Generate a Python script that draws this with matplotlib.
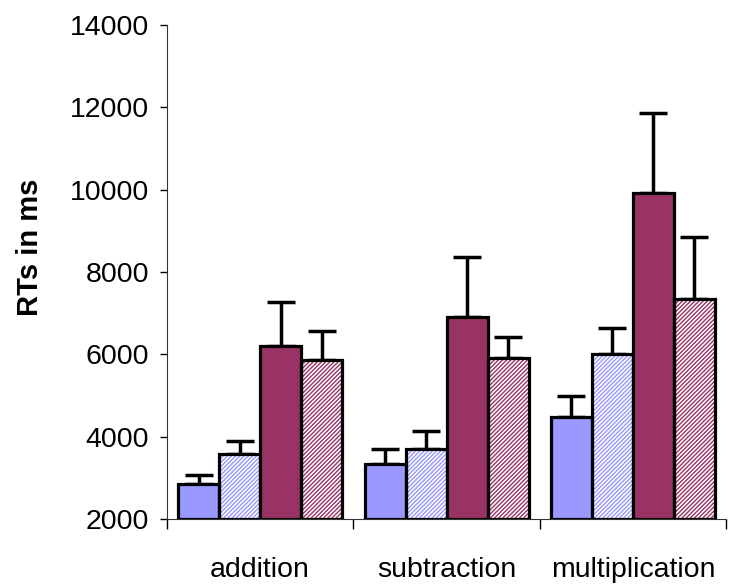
import numpy as np
import matplotlib
matplotlib.use("Agg")
import matplotlib.pyplot as plt

plt.rcParams['font.family'] = ['Liberation Sans', 'DejaVu Sans']
plt.rcParams['hatch.linewidth'] = 1.0

categories = ['addition', 'subtraction', 'multiplication']
means = [
    [2850, 3340, 4480],
    [3580, 3700, 6010],
    [6200, 6910, 9920],
    [5860, 5910, 7340],
]
errors = [
    [220, 360, 510],
    [320, 440, 630],
    [1070, 1450, 1940],
    [710, 510, 1510],
]
colors = ['#9999ff', '#9999ff', '#993366', '#993366']
hatched = [False, True, False, True]

fig = plt.figure(figsize=(7.35, 5.85), dpi=100)
ax = fig.add_axes([0.2272, 0.1128, 0.7606, 0.8445])

x = np.arange(len(categories))
width = 0.22
offsets = (np.arange(4) - 1.5) * width

for i in range(4):
    pos = x + offsets[i]
    if hatched[i]:
        ax.bar(pos, np.array(means[i]) - 2000, width, bottom=2000,
               color='white', edgecolor=colors[i], hatch='////////', linewidth=0, zorder=2)
        ax.bar(pos, np.array(means[i]) - 2000, width, bottom=2000,
               fill=False, edgecolor='black', linewidth=2.3, zorder=3)
    else:
        ax.bar(pos, np.array(means[i]) - 2000, width, bottom=2000,
               color=colors[i], edgecolor='black', linewidth=2.3, zorder=3)
    ax.errorbar(pos, means[i], yerr=[np.zeros(3), errors[i]], fmt='none',
                ecolor='black', elinewidth=2.5, capsize=10, capthick=2.5, zorder=1)

ax.set_ylim(2000, 14000)
ax.set_xlim(-0.5, 2.5)
ax.set_yticks(range(2000, 14001, 2000))
ax.tick_params(axis='y', labelsize=20.5, length=5, width=1, direction='out', pad=8)

ax.set_xticks(x)
ax.set_xticklabels(categories)
ax.set_xticks([-0.5, 0.5, 1.5, 2.5], minor=True)
ax.tick_params(axis='x', which='major', length=0, labelsize=20.5, pad=27)
ax.tick_params(axis='x', which='minor', length=7, width=1, direction='out')

ax.spines['top'].set_visible(False)
ax.spines['right'].set_visible(False)
ax.spines['left'].set_color('#333333')
ax.spines['bottom'].set_color('#333333')

ax.set_ylabel('RTs in ms', fontsize=21, fontweight='bold')
ax.yaxis.set_label_coords(-0.22, 0.55)

fig.savefig('out.png', dpi=100)
